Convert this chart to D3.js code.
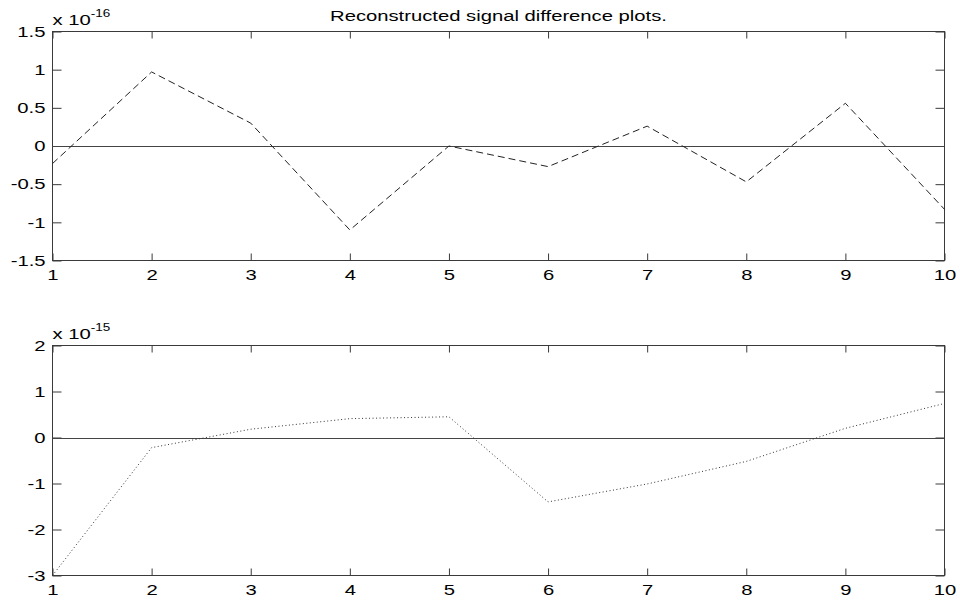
<!DOCTYPE html>
<html>
<head>
<meta charset="utf-8">
<script src="https://cdn.jsdelivr.net/npm/d3@7"></script>
<style>
  body { margin: 0; background: #fff; }
  svg { display: block; }
  text { font-family: "Liberation Sans", Arial, sans-serif; fill: #000; }
</style>
</head>
<body>
<svg id="chart" width="960" height="603"></svg>
<script>
// sample index, shared by both panels
const samples = [1, 2, 3, 4, 5, 6, 7, 8, 9, 10];

// top panel: difference, in units of 1e-16 (dashed)
const diffTop = [-0.23, 0.97, 0.30, -1.10, 0.00, -0.27, 0.26, -0.47, 0.56, -0.83];
const topTicks = [-1.5, -1, -0.5, 0, 0.5, 1, 1.5];

// bottom panel: difference, in units of 1e-15 (dotted)
const diffBottom = [-3.0, -0.22, 0.18, 0.41, 0.45, -1.40, -1.01, -0.52, 0.20, 0.74];
const bottomTicks = [-3, -2, -1, 0, 1, 2];

const title = 'Reconstructed signal difference plots.';
const stretch = 1.35;   // the source fonts are drawn wide

const svg = d3.select('#chart');

const x = d3.scaleLinear().domain([1, 10]).range([52.5, 944.5]);

function panel(values, ticks, top, bottom, exponent, dash, color) {
    const y = d3.scaleLinear().domain(d3.extent(ticks)).range([bottom, top]);
    const g = svg.append('g');

    g.append('rect')
        .attr('x', x.range()[0]).attr('y', top)
        .attr('width', x.range()[1] - x.range()[0]).attr('height', bottom - top)
        .attr('fill', 'none').attr('stroke', '#3a3a3a');

    // inward ticks on all four sides, labels only left and bottom
    const bx = g.append('g').attr('transform', `translate(0,${bottom})`)
        .call(d3.axisBottom(x).tickValues(samples).tickFormat(d => String(d))
            .tickSizeInner(-7).tickSizeOuter(0).tickPadding(9));
    g.append('g').attr('transform', `translate(0,${top})`)
        .call(d3.axisTop(x).tickValues(samples).tickFormat('')
            .tickSizeInner(-7).tickSizeOuter(0));
    const ly = g.append('g').attr('transform', `translate(${x.range()[0]},0)`)
        .call(d3.axisLeft(y).tickValues(ticks).tickFormat(d => String(d))
            .tickSizeInner(-9).tickSizeOuter(0));
    g.append('g').attr('transform', `translate(${x.range()[1]},0)`)
        .call(d3.axisRight(y).tickValues(ticks).tickFormat('')
            .tickSizeInner(-9).tickSizeOuter(0));

    g.selectAll('.domain').remove();
    g.selectAll('.tick line').attr('stroke', '#3a3a3a');
    g.selectAll('.tick text').attr('font-size', 15).attr('fill', '#000');

    bx.selectAll('.tick text').attr('transform', `scale(${stretch},1)`);
    ly.selectAll('.tick text')
        .attr('x', 0)
        .attr('transform', `translate(-7,0) scale(${stretch},1)`);

    // zero line
    g.append('line')
        .attr('x1', x.range()[0]).attr('x2', x.range()[1])
        .attr('y1', Math.round(y(0)) + 0.5).attr('y2', Math.round(y(0)) + 0.5)
        .attr('stroke', '#444');

    const line = d3.line().x((d, i) => x(samples[i])).y(d => y(d));
    g.append('path')
        .datum(values)
        .attr('d', line)
        .attr('fill', 'none')
        .attr('stroke', color)
        .attr('stroke-width', 1)
        .attr('stroke-dasharray', dash);

    // exponent label above the axes
    const lab = g.append('text')
        .attr('transform', `translate(${x.range()[0]},${top - 7}) scale(${stretch},1)`)
        .attr('font-size', 15);
    lab.append('tspan').text('x 10');
    lab.append('tspan').attr('font-size', 10).attr('dy', -8).text(exponent);
}

panel(diffTop, topTicks, 31.5, 260.5, '-16', '7,4', '#222');
panel(diffBottom, bottomTicks, 345.5, 575.5, '-15', '1,2.5', '#333');

svg.append('text')
    .attr('transform', `translate(${(x.range()[0] + x.range()[1]) / 2},21) scale(${stretch},1)`)
    .attr('text-anchor', 'middle')
    .attr('font-size', 15)
    .text(title);
</script>
</body>
</html>
